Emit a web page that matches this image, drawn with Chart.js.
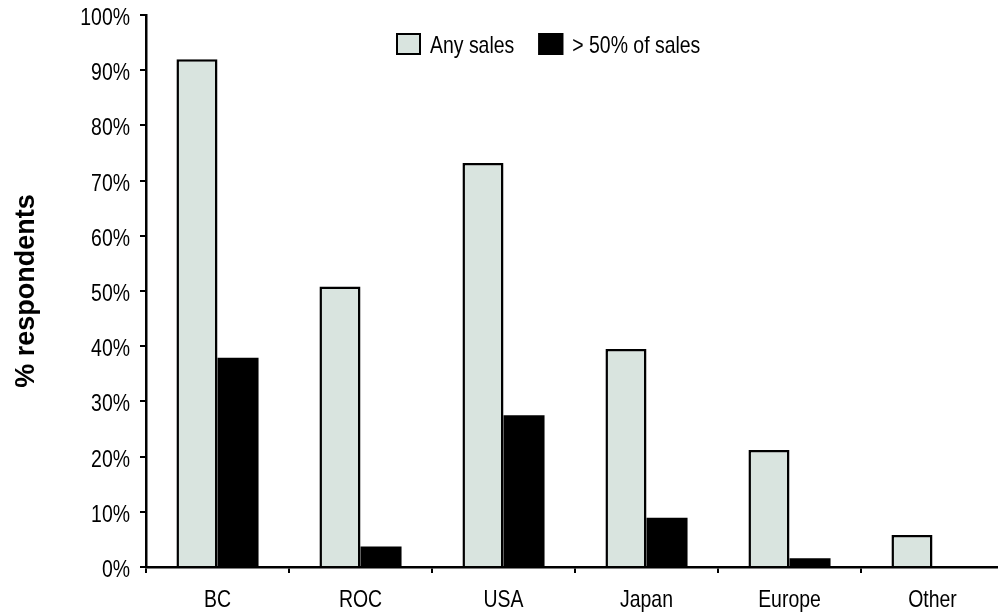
<!DOCTYPE html>
<html>
<head>
<meta charset="utf-8">
<style>
  html, body { margin: 0; padding: 0; background: #ffffff; overflow: hidden; }
  #wrap { width: 1010px; height: 613px; position: relative; }
</style>
<script src="https://cdn.jsdelivr.net/npm/chart.js@4.4.1/dist/chart.umd.min.js"></script>
</head>
<body>
<div id="wrap"><canvas id="c" width="1010" height="613"></canvas></div>
<script>
const categories = ['BC', 'ROC', 'USA', 'Japan', 'Europe', 'Other'];
const anySales = [92.0, 50.8, 73.2, 39.5, 21.2, 5.8];
const over50Sales = [37.9, 3.7, 27.5, 8.9, 1.6, 0];
const seriesLabels = ['Any sales', '> 50% of sales'];
const yTicks = [0, 10, 20, 30, 40, 50, 60, 70, 80, 90, 100];
const yTitle = '% respondents';

const FONT = "'Liberation Sans', Arial, sans-serif";
const SQUEEZE = 0.81;

function condensedText(ctx, text, x, y, align) {
  // draws text horizontally condensed to imitate a narrow typeface
  const w = ctx.measureText(text).width * SQUEEZE;
  let left = x;
  if (align === 'right') left = x - w;
  else if (align === 'center') left = x - w / 2;
  ctx.save();
  ctx.translate(left, y);
  ctx.scale(SQUEEZE, 1);
  ctx.textAlign = 'left';
  ctx.fillText(text, 0, 0);
  ctx.restore();
  return w;
}

const customPlugin = {
  id: 'custom',
  afterDraw(chart) {
    const ctx = chart.ctx;
    const ca = chart.chartArea;
    const xs = chart.scales.x;
    const ys = chart.scales.y;

    // tick labels
    ctx.save();
    ctx.font = '24px ' + FONT;
    ctx.fillStyle = '#000';
    ctx.textBaseline = 'alphabetic';
    ys.ticks.forEach((t) => {
      const py = ys.getPixelForValue(t.value);
      condensedText(ctx, t.value + '%', ca.left - 16, py + 10, 'right');
    });
    chart.data.labels.forEach((lab, i) => {
      const px = xs.getPixelForValue(i);
      condensedText(ctx, lab, px, ca.bottom + 40, 'center');
    });
    ctx.restore();

    // y-axis title
    ctx.save();
    ctx.font = 'bold 27px ' + FONT;
    ctx.fillStyle = '#000';
    ctx.textAlign = 'center';
    ctx.textBaseline = 'middle';
    ctx.translate(27, (ca.top + ca.bottom) / 2);
    ctx.rotate(-Math.PI / 2);
    ctx.fillText(yTitle, 0, 0, 194);
    ctx.restore();

    // legend
    ctx.save();
    ctx.font = '24px ' + FONT;
    ctx.textBaseline = 'alphabetic';
    let x = ca.left + 250;
    const cy = 44;
    chart.data.datasets.forEach((ds) => {
      ctx.fillStyle = ds.backgroundColor;
      ctx.fillRect(x, cy - 11, 25, 22);
      ctx.strokeStyle = '#000';
      ctx.lineWidth = 2;
      ctx.strokeRect(x + 1, cy - 10, 23, 20);
      ctx.fillStyle = '#000';
      const w = condensedText(ctx, ds.label, x + 34, cy + 9, 'left');
      x += 34 + w + 24;
    });
    ctx.restore();
  }
};

new Chart(document.getElementById('c'), {
  type: 'bar',
  data: {
    labels: categories,
    datasets: [
      {
        label: seriesLabels[0],
        data: anySales,
        backgroundColor: '#d9e4df',
        borderColor: '#000000',
        borderWidth: 2.5,
        borderSkipped: 'bottom',
        barPercentage: 1.0,
        categoryPercentage: 0.574
      },
      {
        label: seriesLabels[1],
        data: over50Sales,
        backgroundColor: '#000000',
        borderColor: '#000000',
        borderWidth: 0,
        barPercentage: 1.0,
        categoryPercentage: 0.574
      }
    ]
  },
  options: {
    responsive: false,
    animation: false,
    layout: { padding: { top: 15, right: 6, left: 0, bottom: 0 } },
    plugins: {
      legend: { display: false },
      tooltip: { enabled: false }
    },
    scales: {
      x: {
        grid: {
          display: true,
          drawOnChartArea: false,
          drawTicks: true,
          tickLength: 6,
          lineWidth: 2,
          color: '#000',
          offset: true
        },
        border: { display: true, color: '#000', width: 2.5 },
        ticks: {
          color: 'rgba(0,0,0,0)',
          font: { family: FONT, size: 2 },
          padding: 0,
          maxRotation: 0
        },
        afterFit(scale) { scale.height = 46; }
      },
      y: {
        min: 0,
        max: 100,
        afterBuildTicks(scale) { scale.ticks = yTicks.map(v => ({ value: v })); },
        grid: {
          display: true,
          drawOnChartArea: false,
          drawTicks: true,
          tickLength: 6,
          lineWidth: 2,
          color: '#000'
        },
        border: { display: true, color: '#000', width: 2.5 },
        ticks: {
          color: 'rgba(0,0,0,0)',
          font: { family: FONT, size: 2 },
          padding: 0
        },
        afterFit(scale) { scale.width = 146; }
      }
    }
  },
  plugins: [customPlugin]
});
</script>
</body>
</html>
